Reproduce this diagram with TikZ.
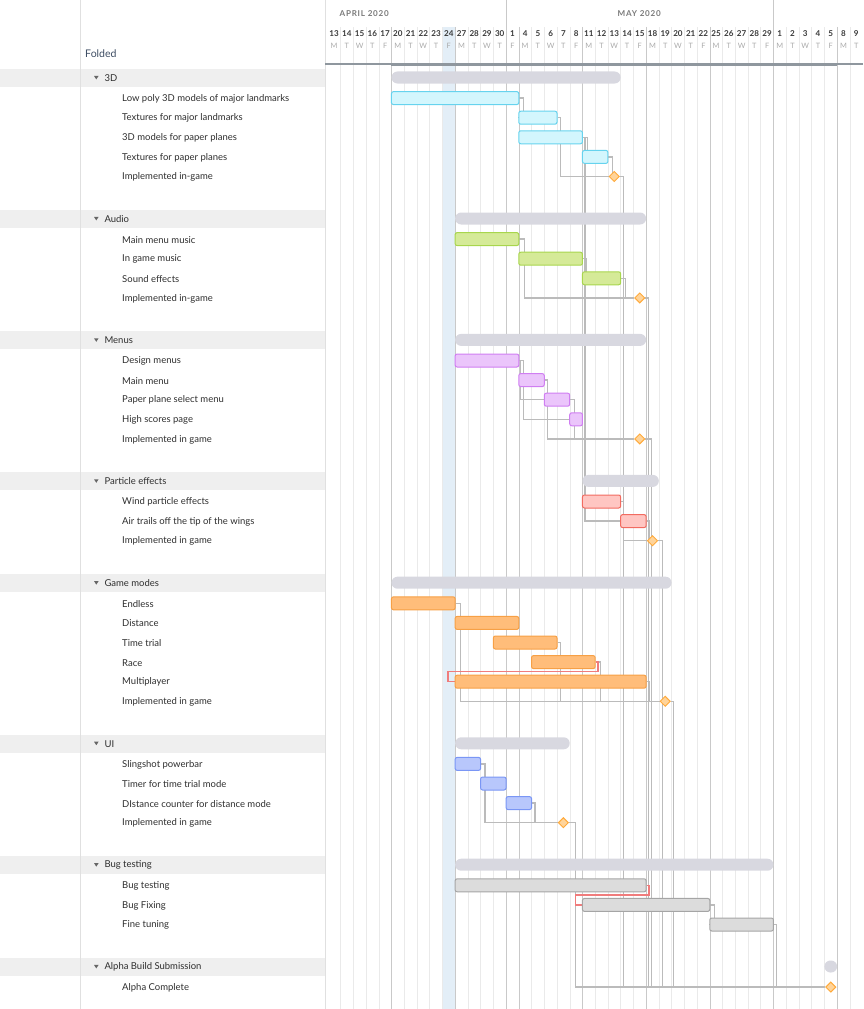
\documentclass[tikz,border=0pt]{standalone}
\usepackage{fontspec}
\setmainfont{Lato}
\usepackage{xcolor}
\usepackage{tikz}
\usetikzlibrary{shapes.geometric, calc}

\definecolor{c3dfill}{HTML}{D3F6FD}   \definecolor{c3dline}{HTML}{66D3EE}
\definecolor{caudfill}{HTML}{D5EA98}  \definecolor{caudline}{HTML}{A8D64D}
\definecolor{cmenfill}{HTML}{EBC5FB}  \definecolor{cmenline}{HTML}{D07EF2}
\definecolor{cpartfill}{HTML}{FFC6C2} \definecolor{cpartline}{HTML}{F26B60}
\definecolor{cgamefill}{HTML}{FFBD7A} \definecolor{cgameline}{HTML}{F7A045}
\definecolor{cuifill}{HTML}{B8C7FC}   \definecolor{cuiline}{HTML}{7A96F5}
\definecolor{cbugfill}{HTML}{DCDCDC}  \definecolor{cbugline}{HTML}{A5A5A5}
\definecolor{summary}{HTML}{D8D8E0}
\definecolor{milefill}{HTML}{FFD49A}  \definecolor{mileline}{HTML}{FFAA3B}
\definecolor{link}{HTML}{BBBBBB}      \definecolor{critlink}{HTML}{F07C7C}
\definecolor{dayln}{HTML}{EAEAEA}     \definecolor{weekln}{HTML}{C9C9C9}
\definecolor{today}{HTML}{E3EEF7}     \definecolor{grpbg}{HTML}{EFEFEF}
\definecolor{panelln}{HTML}{E0E0E0}   \definecolor{ink}{HTML}{2E2E2E}
\definecolor{hdrink}{HTML}{3E4D63}    \definecolor{monthink}{HTML}{7A7A7A}
\definecolor{dayink}{HTML}{3A3A3A}    \definecolor{wkink}{HTML}{AAAAAA}
\definecolor{axisbar}{HTML}{8F979E}

\pgfdeclarelayer{bg}
\pgfdeclarelayer{links}
\pgfsetlayers{bg,links,main}

% chart origin and day width, in px
\newcommand{\chartx}{327.8}
\newcommand{\dayw}{12.733}
% name, style, first day, end day, y
\newcommand{\gtask}[5]{\node[task,#2,minimum width={(#4-#3)*0.382cm}] (#1) at ({\chartx+\dayw*(#3+#4)/2},#5) {};}
\newcommand{\gsum}[4]{\node[summ,minimum width={(#3-#2)*0.382cm}] (#1) at ({\chartx+\dayw*(#2+#3)/2},#4) {};}
\newcommand{\gmile}[3]{\node[mile] (#1) at ({\chartx+\dayw*(#2+0.5)},#3) {};}

\begin{document}
\begin{tikzpicture}[x=0.03cm, y=-0.03cm,
    lbl/.style={anchor=west, inner sep=0, text=ink, font=\fontsize{8.1}{10}\selectfont},
    dayno/.style={inner sep=0, text=dayink, font=\bfseries\fontsize{6.9}{8}\selectfont},
    wkday/.style={inner sep=0, text=wkink, font=\fontsize{6.3}{8}\selectfont},
    month/.style={anchor=west, inner sep=0, text=monthink, font=\bfseries\fontsize{6.9}{8}\selectfont\addfontfeature{LetterSpace=9}},
    task/.style={draw, rounded corners=0.06cm, minimum height=0.39cm, inner sep=0, line width=0.85pt},
    summ/.style={fill=summary, rounded corners=0.18cm, minimum height=0.36cm, inner sep=0},
    mile/.style={diamond, draw=mileline, fill=milefill, minimum width=0.31cm, minimum height=0.31cm, inner sep=0, line width=0.8pt},
    dep/.style={draw=link, line width=1.05pt},
    crit/.style={draw=critlink, line width=1.2pt},
    t3d/.style={fill=c3dfill, draw=c3dline},
    taud/.style={fill=caudfill, draw=caudline},
    tmen/.style={fill=cmenfill, draw=cmenline},
    tpart/.style={fill=cpartfill, draw=cpartline},
    tgame/.style={fill=cgamefill, draw=cgameline},
    tui/.style={fill=cuifill, draw=cuiline},
    tbug/.style={fill=cbugfill, draw=cbugline}]
  \useasboundingbox (0,0) rectangle (863,1009);

  \begin{pgfonlayer}{bg}
    % group rows in the task list
    \foreach \g in {77.5,218.5,339.9,480.9,582.7,743.3,864.7,966.5}
      \fill[grpbg] (0,\g-8.5) rectangle (324.5,\g+9.5);
    \draw[panelln] (80,0) -- (80,1009);
    \draw[panelln] (325,0) -- (325,1009);
    % today
    \fill[today] ({\chartx+\dayw*9},27) rectangle ({\chartx+\dayw*10},1009);
    % day and week lines
    \foreach \i in {1,...,41} {
      \pgfmathtruncatemacro\k{mod(\i,5)}
      \ifnum\k=0
        \draw[weekln] ({\chartx+\dayw*\i},27) -- ({\chartx+\dayw*\i},1009);
      \else
        \draw[dayln] ({\chartx+\dayw*\i},27) -- ({\chartx+\dayw*\i},1009);
      \fi
    }
    % month borders
    \foreach \i in {14,35}
      \draw[weekln] ({\chartx+\dayw*\i},0) -- ({\chartx+\dayw*\i},1009);
    % project span
    \draw[axisbar, line width=1.4pt] (325,64.3) -- (863,64.3);
    \draw[axisbar, line width=2.8pt] ({\chartx+\dayw*5},64.3) -- ({\chartx+\dayw*40},64.3);
  \end{pgfonlayer}

  % header
  \node[anchor=west, inner sep=0, text=hdrink, font=\fontsize{9}{11}\selectfont] (folded) at (85,54) {Folded};
  \node[month] (april) at (339.5,14) {APRIL 2020};
  \node[month] (may) at (617.5,14) {MAY 2020};
  \foreach \d [count=\i from 0] in {13,14,15,16,17,20,21,22,23,24,27,28,29,30,1,4,5,6,7,8,11,12,13,14,15,18,19,20,21,22,25,26,27,28,29,1,2,3,4,5,8,9} {
    \pgfmathtruncatemacro\k{mod(\i,5)}
    \node[dayno] (d\i) at ({\chartx+\dayw*(\i+0.5)},34) {\d};
    \node[wkday] (w\i) at ({\chartx+\dayw*(\i+0.5)},46) {\ifcase\k M\or T\or W\or T\or F\fi};
  }

  % group labels
  \foreach \y/\t [count=\n] in {77.5/3D, 218.5/Audio, 339.9/Menus, 480.9/Particle effects,
      582.7/Game modes, 743.3/UI, 864.7/Bug testing, 966.5/Alpha Build Submission} {
    \fill[black!60] (94,\y-1.6) -- (98.6,\y-1.6) -- (96.3,\y+1.9) -- cycle;
    \node[lbl] (grp\n) at (104.3,\y+0.5) {\t};
  }
  % task labels
  \foreach \y/\t [count=\n] in {98.1/Low poly 3D models of major landmarks, 117.7/Textures for major landmarks,
      137.3/3D models for paper planes, 156.9/Textures for paper planes, 176.5/Implemented in-game,
      239.1/Main menu music, 258.7/In game music, 278.3/Sound effects, 297.9/Implemented in-game,
      360.5/Design menus, 380.1/Main menu, 399.7/Paper plane select menu, 419.3/High scores page,
      438.9/Implemented in game,
      501.5/Wind particle effects, 521.1/Air trails off the tip of the wings, 540.7/Implemented in game,
      603.3/Endless, 622.9/Distance, 642.5/Time trial, 662.1/Race, 681.7/Multiplayer, 701.3/Implemented in game,
      763.9/Slingshot powerbar, 783.5/Timer for time trial mode, 803.1/DIstance counter for distance mode,
      822.7/Implemented in game,
      885.3/Bug testing, 904.9/Bug Fixing, 924.5/Fine tuning, 987.1/Alpha Complete}
    \node[lbl] (task\n) at (122,\y+0.6) {\t};

  % 3D
  \gsum{sum3d}{5}{23}{77.5}
  \gtask{lowpoly}{t3d}{5}{15}{98.1}
  \gtask{texmaj}{t3d}{15}{18}{117.7}
  \gtask{models}{t3d}{15}{20}{137.3}
  \gtask{texpap}{t3d}{20}{22}{156.9}
  \gmile{m3d}{22}{176.5}
  % Audio
  \gsum{sumaud}{10}{25}{218.5}
  \gtask{menumus}{taud}{10}{15}{239.1}
  \gtask{gamemus}{taud}{15}{20}{258.7}
  \gtask{sfx}{taud}{20}{23}{278.3}
  \gmile{maud}{24}{297.9}
  % Menus
  \gsum{summen}{10}{25}{339.9}
  \gtask{design}{tmen}{10}{15}{360.5}
  \gtask{mainmenu}{tmen}{15}{17}{380.1}
  \gtask{ppsel}{tmen}{17}{19}{399.7}
  \gtask{hiscore}{tmen}{19}{20}{419.3}
  \gmile{mmen}{24}{438.9}
  % Particle effects
  \gsum{sumpart}{20}{26}{480.9}
  \gtask{wind}{tpart}{20}{23}{501.5}
  \gtask{trails}{tpart}{23}{25}{521.1}
  \gmile{mpart}{25}{540.7}
  % Game modes
  \gsum{sumgame}{5}{27}{582.7}
  \gtask{endless}{tgame}{5}{10}{603.3}
  \gtask{distance}{tgame}{10}{15}{622.9}
  \gtask{timetrial}{tgame}{13}{18}{642.5}
  \gtask{race}{tgame}{16}{21}{662.1}
  \gtask{multi}{tgame}{10}{25}{681.7}
  \gmile{mgame}{26}{701.3}
  % UI
  \gsum{sumui}{10}{19}{743.3}
  \gtask{sling}{tui}{10}{12}{763.9}
  \gtask{timer}{tui}{12}{14}{783.5}
  \gtask{distctr}{tui}{14}{16}{803.1}
  \gmile{mui}{18}{822.7}
  % Bug testing
  \gsum{sumbug}{10}{35}{864.7}
  \gtask{bugtest}{tbug}{10}{25}{885.3}
  \gtask{bugfix}{tbug}{20}{30}{904.9}
  \gtask{finetune}{tbug}{30}{35}{924.5}
  % Alpha
  \gsum{sumalpha}{39}{40}{966.5}
  \gmile{alpha}{39}{987.1}

  % dependencies
  \begin{pgfonlayer}{links}
    \draw[dep] (lowpoly.east) -- ++(4.5,0) |- (texmaj.west);
    \draw[dep] (texmaj.east) -- ++(3,0) |- (m3d.west);
    \draw[dep] (models.east) -- ++(4.5,0) |- (texpap.west);
    \draw[dep] (models.east) -- ++(2,0) |- (trails.west);
    \draw[dep] (texpap.east) -- ++(4,0) |- (m3d.west);
    \draw[dep] (menumus.east) -- ++(5,0) |- (maud.west);
    \draw[dep] (gamemus.east) -- ++(3,0) |- (sfx.west);
    \draw[dep] (sfx.east) -- ++(4.5,0) |- (maud.west);
    \draw[dep] (design.east) -- ++(1.5,0) |- (ppsel.west);
    \draw[dep] (design.east) -- ++(4.5,0) |- (hiscore.west);
    \draw[dep] (mainmenu.east) -- ++(2.5,0) |- (mmen.west);
    \draw[dep] (ppsel.east) -- ++(4.5,0) |- (mmen.west);
    \draw[dep] (wind.east) -- ++(2.5,0) |- (mpart.west);
    \draw[dep] (trails.east) -- ++(3,0) |- (mpart.west);
    \draw[dep] (endless.east) -- ++(4.5,0) |- (mgame.west);
    \draw[dep] (timetrial.east) -- ++(3,0) |- (mgame.west);
    \draw[dep] (race.east) -- ++(5,0) |- (mgame.west);
    \draw[dep] (multi.east) -- ++(2.5,0) |- (mgame.west);
    \draw[dep] (sling.east) -- ++(4,0) |- (mui.west);
    \draw[dep] (distctr.east) -- ++(3,0) |- (mui.west);
    \draw[dep] (bugfix.east) -- ++(4,0) |- (finetune.west);
    % everything feeds the alpha build
    \foreach \m/\o in {m3d/3.5, maud/3.4, mmen/6, mpart/4, mgame/2.8, mui/6.2, finetune/2.2}
      \draw[dep] (\m.east) -- ++(\o,0) |- (alpha.west);
    % overlapping links
    \draw[crit] (race.east) -- ++(2.5,0) -- ++(0,9.6) -| ([xshift=-0.2cm]multi.west) -- (multi.west);
    \draw[crit] (bugtest.east) -- ++(2.5,0) -- ++(0,9.7) -| ([xshift=-0.2cm]bugfix.west) -- (bugfix.west);
  \end{pgfonlayer}
\end{tikzpicture}
\end{document}
